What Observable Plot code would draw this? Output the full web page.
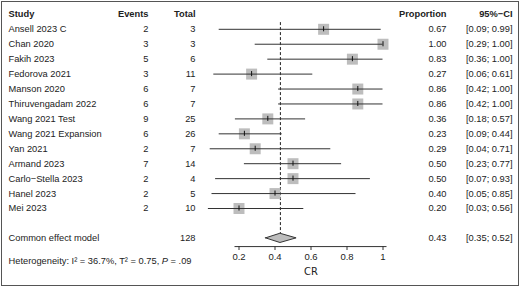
<!DOCTYPE html>
<html>
<head>
<meta charset="utf-8">
<script src="https://cdn.jsdelivr.net/npm/d3@7"></script>
<script src="https://cdn.jsdelivr.net/npm/@observablehq/plot@0.6"></script>
<style>
  html, body { margin: 0; padding: 0; background: #fff; }
  #chart svg { display: block; outline: 1.5px solid #555; outline-offset: -2px; }
  .xlab { font-stretch: condensed; }
</style>
</head>
<body>
<div id="chart"></div>
<script>
// ---- data ----
const studies = ["Ansell 2023 C","Chan 2020","Fakih 2023","Fedorova 2021","Manson 2020","Thiruvengadam 2022","Wang 2021 Test","Wang 2021 Expansion","Yan 2021","Armand 2023","Carlo\u2212Stella 2023","Hanel 2023","Mei 2023"];
const events = [2,3,5,3,6,6,9,6,2,7,2,2,2];
const totals = [3,3,6,11,7,7,25,26,7,14,4,5,10];
const proportions = [0.67,1.00,0.83,0.27,0.86,0.86,0.36,0.23,0.29,0.50,0.50,0.40,0.20];
const lowers = [0.09,0.29,0.36,0.06,0.42,0.42,0.18,0.09,0.04,0.23,0.07,0.05,0.03];
const uppers = [0.99,1.00,1.00,0.61,1.00,1.00,0.57,0.44,0.71,0.77,0.93,0.85,0.56];

const commonLabel = "Common effect model";
const commonTotal = 128;
const commonEst = 0.43;
const commonLower = 0.35;
const commonUpper = 0.52;

const heterogeneity = "Heterogeneity: I\u00B2 = 36.7%, T\u00B2 = 0.75, P = .09";
const headers = ["Study","Events","Total","Proportion","95%\u2212CI"];
const xTicks = [0.2,0.4,0.6,0.8,1];
const xLabel = "CR";

// ---- layout (row indices) ----
const rows = studies.map((s, i) => ({
  row: i, study: s, events: events[i], total: totals[i],
  est: proportions[i], lower: lowers[i], upper: uppers[i]
}));
const headerRow = -1;
const commonRow = rows.length + 1;
const hetRow = commonRow + 1.5;
const axisRow = commonRow + 0.55;
const xLabelRow = commonRow + 2.2;
const diamondHalf = 0.31;

const f2 = d3.format(".2f");
const ci = (l, u) => `[${f2(l)}; ${f2(u)}]`;

const diamond = [
  {x: commonLower, h: 0},
  {x: commonEst, h: 1},
  {x: commonUpper, h: 0}
];

const common = [{row: commonRow, label: commonLabel, total: commonTotal, est: f2(commonEst), ci: ci(commonLower, commonUpper)}];

function col(data, text, dx, anchor, extra = {}) {
  return Plot.text(data, {y: "row", text, frameAnchor: "left", dx, textAnchor: anchor, fill: "#222", ...extra});
}
const headerData = [{row: headerRow}];

const chart = Plot.plot({
  width: 520,
  height: 287,
  marginLeft: 0, marginRight: 0, marginTop: 0, marginBottom: 41,
  x: {domain: [0, 1], range: [202.5, 382.5]},
  y: {domain: [0, 12], range: [28.8, 208], axis: null},
  style: {fontFamily: "'Liberation Sans', Arial, sans-serif", fontSize: "9.3px", background: "white", color: "#222"},
  marks: [
    // reference line at pooled estimate
    Plot.ruleX([commonEst], {y1: -0.45, y2: commonRow - diamondHalf, stroke: "#222", strokeWidth: 1, strokeDasharray: "3,2"}),
    // squares
    Plot.dot(rows, {x: "est", y: "row", symbol: "square", r: 6.2, fill: "#bdbdbd", stroke: "none"}),
    // CI lines
    Plot.ruleY(rows, {y: "row", x1: "lower", x2: "upper", stroke: "#333", strokeWidth: 1}),
    // estimate tick
    Plot.ruleX(rows, {x: "est", y1: d => d.row - 0.17, y2: d => d.row + 0.17, stroke: "#111", strokeWidth: 1}),
    // diamond
    Plot.area(diamond, {x1: "x", x2: "x", y1: d => commonRow - d.h * diamondHalf, y2: d => commonRow + d.h * diamondHalf, fill: "#bdbdbd", stroke: "#333", strokeWidth: 1}),
    // axis
    Plot.ruleY([axisRow], {x1: d3.min(xTicks), x2: d3.max(xTicks), insetLeft: -4, insetRight: -4, stroke: "#333"}),
    Plot.axisX(xTicks, {tickSize: 4, tickPadding: 3, tickFormat: d3.format("~g"), label: null, fontSize: 9.5, stroke: "#333", fill: "#222"}),
    Plot.text([xLabel], {x: d3.mean([d3.min(xTicks), d3.max(xTicks)]), y: xLabelRow, text: d => d, fontFamily: "'DejaVu Sans', sans-serif", fontSize: 11, fill: "#222", className: "xlab"}),
    // headers
    col(headerData, () => headers[0], 8, "start", {fontWeight: "bold"}),
    col(headerData, () => headers[1], 148, "end", {fontWeight: "bold"}),
    col(headerData, () => headers[2], 195, "end", {fontWeight: "bold"}),
    col(headerData, () => headers[3], 446, "end", {fontWeight: "bold"}),
    col(headerData, () => headers[4], 512, "end", {fontWeight: "bold"}),
    // study rows
    col(rows, "study", 8, "start"),
    col(rows, "events", 148, "end"),
    col(rows, "total", 195, "end"),
    col(rows, d => f2(d.est), 446, "end"),
    col(rows, d => ci(d.lower, d.upper), 512, "end"),
    // common effect
    col(common, "label", 8, "start"),
    col(common, "total", 195, "end"),
    col(common, "est", 446, "end"),
    col(common, "ci", 512, "end"),
    // heterogeneity
    col([{row: hetRow}], () => heterogeneity, 8, "start")
  ]
});

// italicise the P in the heterogeneity line
d3.select(chart).selectAll("text").each(function() {
  const t = this.textContent;
  if (t === heterogeneity) {
    const i = t.lastIndexOf("P");
    const sel = d3.select(this);
    sel.text(null);
    sel.append("tspan").text(t.slice(0, i));
    sel.append("tspan").attr("font-style", "italic").text("P");
    sel.append("tspan").text(t.slice(i + 1));
  }
});
d3.select(chart).selectAll("g.xlab text").style("font-stretch", "condensed");

document.getElementById("chart").append(chart);
</script>
</body>
</html>
